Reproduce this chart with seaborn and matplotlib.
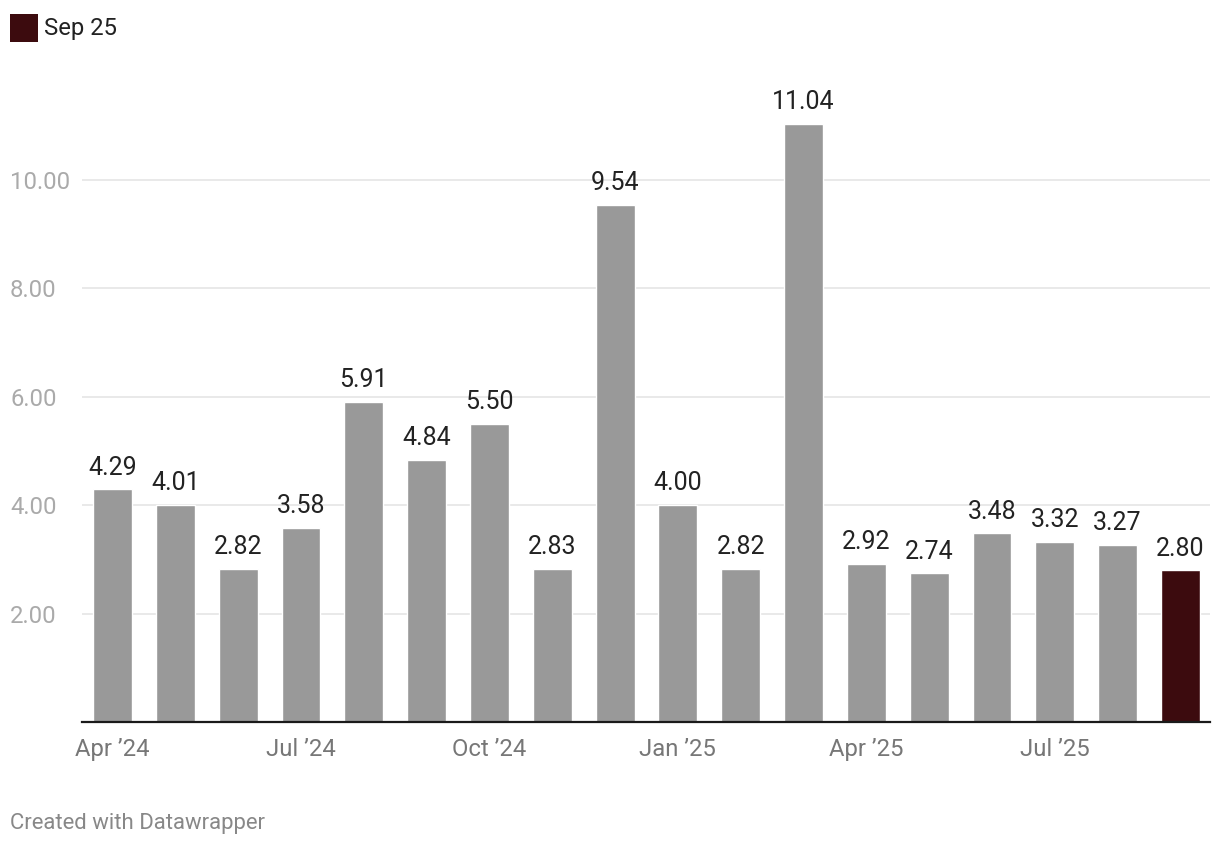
import matplotlib
matplotlib.use("Agg")
import matplotlib.pyplot as plt
import seaborn as sns
import pandas as pd
from matplotlib.patches import Rectangle

months = ["Apr '24", "May '24", "Jun '24", "Jul '24", "Aug '24", "Sep '24",
          "Oct '24", "Nov '24", "Dec '24", "Jan '25", "Feb '25", "Mar '25",
          "Apr '25", "May '25", "Jun '25", "Jul '25", "Aug '25", "Sep '25"]
values = [4.29, 4.01, 2.82, 3.58, 5.91, 4.84, 5.50, 2.83, 9.54, 4.00,
          2.82, 11.04, 2.92, 2.74, 3.48, 3.32, 3.27, 2.80]
highlight = ["other"] * 17 + ["Sep 25"]
xtick_labels = ["Apr \u201924", "Jul \u201924", "Oct \u201924", "Jan \u201925", "Apr \u201925", "Jul \u201925"]
xtick_idx = [0, 3, 6, 9, 12, 15]
ytick_vals = [2, 4, 6, 8, 10]
legend_label = "Sep 25"

GRAY = "#999999"
DARK = "#3c0b0e"

sns.set_theme(style="white")
plt.rcParams['font.family'] = ['Roboto', 'DejaVu Sans']

df = pd.DataFrame({"month": months, "value": values, "group": highlight})

W, H = 1220, 846
fig = plt.figure(figsize=(W / 100, H / 100), dpi=100)
ax_left, ax_right, ax_bottom, ax_top = 82, 1210, 722, 100
ax = fig.add_axes([ax_left / W, 1 - ax_bottom / H, (ax_right - ax_left) / W, (ax_bottom - ax_top) / H])

sns.barplot(data=df, x="month", y="value", hue="group",
            palette={"other": GRAY, "Sep 25": DARK}, dodge=False,
            width=0.62, legend=False, ax=ax, saturation=1)

px_per_unit = 54.2
ax.set_ylim(0, (ax_bottom - ax_top) / px_per_unit)
ax.set_xlim(-0.486, 17.47)

for c in ax.containers:
    ax.bar_label(c, fmt="%.2f", padding=7, fontsize=18, color="#222222")

ax.set_yticks(ytick_vals)
ax.set_yticklabels([f"{v:.2f}" for v in ytick_vals])
for lab in ax.get_yticklabels():
    lab.set_horizontalalignment("left")
ax.tick_params(axis="y", length=0, pad=72 * 0.72, labelsize=17.2, labelcolor="#aaaaaa")
ax.grid(axis="y", color="#e3e3e3", linewidth=1.1)
ax.set_axisbelow(True)

ax.set_xticks(xtick_idx)
ax.set_xticklabels(xtick_labels)
ax.tick_params(axis="x", length=0, pad=11.5, labelsize=17.2, labelcolor="#777777")

ax.set_xlabel("")
ax.set_ylabel("")
for s in ["top", "right", "left"]:
    ax.spines[s].set_visible(False)
ax.spines["bottom"].set_color("#1a1a1a")
ax.spines["bottom"].set_linewidth(1.6)

# legend
fig.patches.append(Rectangle((10 / W, 1 - 42 / H), 28 / W, 28 / H,
                             transform=fig.transFigure, facecolor=DARK, edgecolor="none"))
fig.text(44 / W, 1 - 28 / H, legend_label, fontsize=17.2, color="#222222", va="center", ha="left")

fig.text(10 / W, 1 - 823 / H, "Created with Datawrapper", fontsize=15.9, color="#888888",
         va="center", ha="left")

fig.savefig("out.png", dpi=100, facecolor="white")
